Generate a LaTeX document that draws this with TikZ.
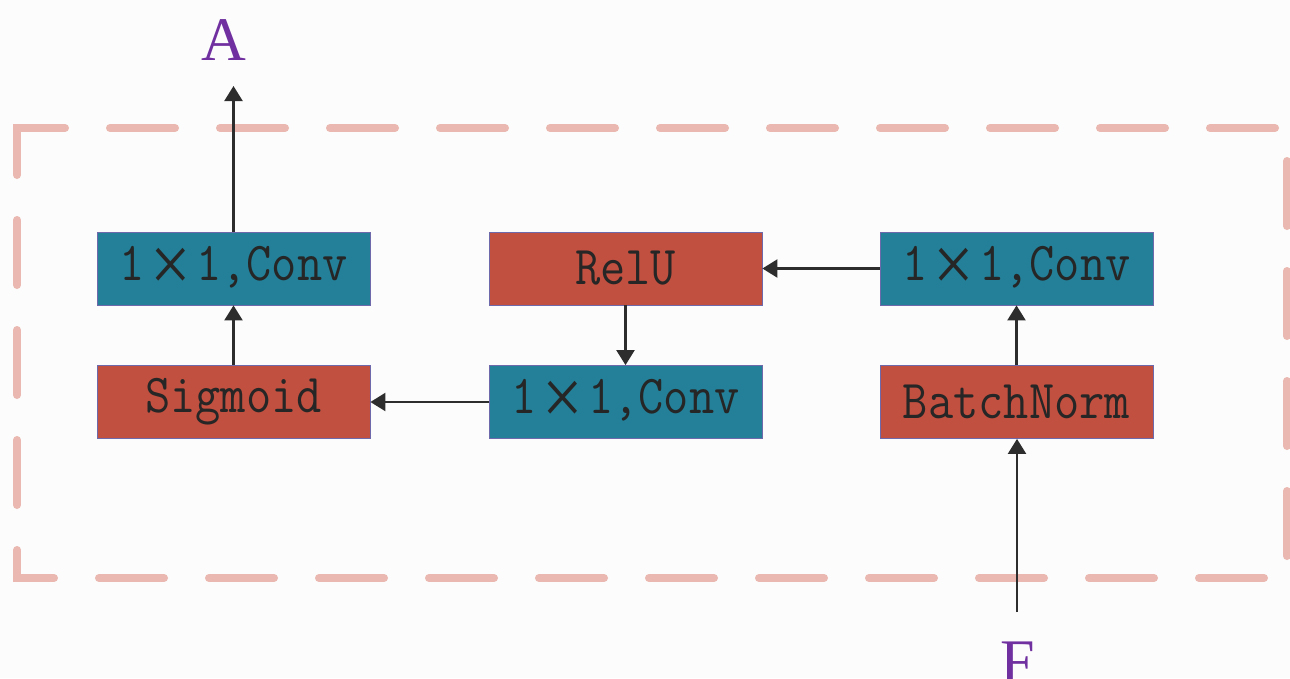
\documentclass[tikz,border=0pt]{standalone}
\usepackage{fontspec}
\setmainfont{Liberation Serif}
\usetikzlibrary{arrows.meta}
\definecolor{tealbox}{RGB}{35,128,152}
\definecolor{redbox}{RGB}{193,80,64}
\definecolor{boxedge}{RGB}{110,105,170}
\definecolor{dashpink}{RGB}{234,184,176}
\definecolor{labpurple}{RGB}{112,48,160}
\definecolor{arrowgray}{RGB}{45,45,45}
\newcommand{\boxtxt}[1]{\scalebox{1}[1.12]{\fontsize{49}{49}\selectfont\ttfamily #1}}
\newcommand{\wtimes}{\makebox[1.05em]{\raisebox{-10pt}{\rmfamily\fontsize{72}{72}\selectfont ×}}}
\tikzset{
  blk/.style={minimum width=273pt, minimum height=73pt, inner sep=0pt, draw=boxedge, line width=0.8pt, text=black!85},
  tealblk/.style={blk, fill=tealbox},
  redblk/.style={blk, fill=redbox},
  arr/.style={draw=arrowgray, line width=2.2pt, -{Triangle[length=15pt,width=18pt]}},
  lab/.style={text=labpurple, font=\fontsize{62}{62}\selectfont, inner sep=0pt},
}
\begin{document}
\begin{tikzpicture}[x=1pt,y=-1pt]
\fill[white!99!black] (0,0) rectangle (1290,678);
\useasboundingbox (0,0) rectangle (1290,678);
% dashed frame
\draw[dashpink, line width=8pt, line cap=round, dash pattern=on 65pt off 45pt]
  (17,145) -- (17,128) -- (1287,128) -- (1287,578) -- (17,578) -- (17,145);
% blocks
\node[tealblk] (c1) at (233.5,268.5) {\boxtxt{1\wtimes1,Conv}};
\node[redblk] (sig) at (233.5,402) {\boxtxt{Sigmoid}};
\node[redblk] (relu) at (625.5,268.5) {\boxtxt{RelU}};
\node[tealblk] (c2) at (625.5,402) {\boxtxt{1\wtimes1,Conv}};
\node[tealblk] (c3) at (1016.5,268.5) {\boxtxt{1\wtimes1,Conv}};
\node[redblk] (bn) at (1016.5,402) {\boxtxt{BatchNorm}};
% labels
\node[lab] (A) at (224,40) {A};
\node[lab] (F) at (1018,662) {F};
\coordinate (aend) at (233.5,86);
\coordinate (fstart) at (1017,612);
% connectors
\draw[arr] (c1.north) -- (aend);
\draw[arr] (sig.north) -- (c1.south);
\draw[arr] (relu.south) -- (c2.north);
\draw[arr] (c2.west) -- (sig.east);
\draw[arr] (c3.west) -- (relu.east);
\draw[arr] (bn.north -| c3.south) -- (c3.south);
\draw[arr] (fstart) -- (fstart |- bn.south);
\end{tikzpicture}
\end{document}
